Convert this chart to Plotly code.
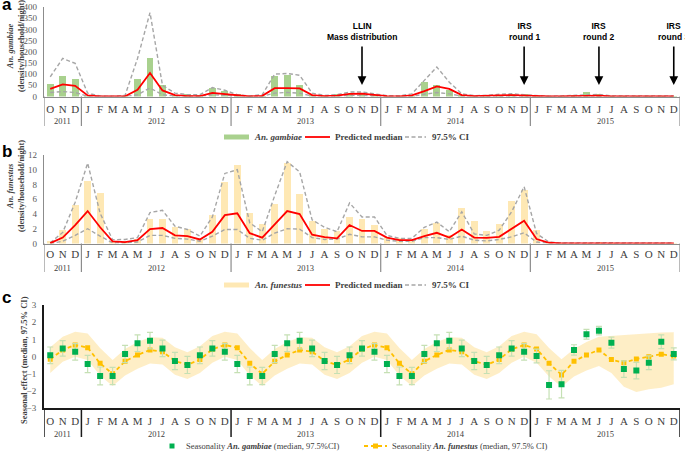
import plotly.graph_objects as go

W, H = 685, 454

# ---------------- data ----------------
months = ["O", "N", "D"] + ["J", "F", "M", "A", "M", "J", "J", "A", "S", "O", "N", "D"] * 4
years = ["2011", "2012", "2013", "2014", "2015"]
months_per_year = [3, 12, 12, 12, 12]

# Panel a: An. gambiae density
gamb_obs = [55, 91, 78,
            2, 0, 0, 2, 80, 172, 50, 8, 10, 6, 38, 24,
            10, 2, 4, 90, 97, 52, 6, 4, 10, 12, 14, 8,
            3, 2, 4, 64, 52, 30, 5, 2, 4, 8, 10, 9,
            2, 1, 2, 5, 18, 9, 3, 2, 1, 2, 2, 1]
gamb_med = [34, 54, 48,
            5, 0, 0, 1, 30, 105, 27, 6, 2, 2, 16, 10,
            3, 0, 3, 37, 37, 36, 6, 2, 4, 12, 13, 7,
            2, 1, 5, 24, 45, 34, 6, 2, 2, 5, 6, 4,
            1, 0, 1, 2, 4, 4, 1, 1, 0, 1, 1, 1]
gamb_hi = [88, 170, 148,
           15, 2, 1, 5, 170, 375, 50, 15, 8, 8, 40, 28,
           8, 2, 8, 100, 103, 95, 15, 5, 8, 20, 20, 12,
           4, 3, 12, 72, 132, 64, 12, 4, 5, 10, 12, 8,
           3, 1, 3, 5, 10, 9, 3, 2, 1, 2, 2, 2]
gamb_lo = [18, 22, 18,
           1, 0, 0, 0, 8, 38, 8, 2, 1, 1, 8, 5,
           1, 0, 1, 15, 18, 15, 2, 1, 1, 5, 5, 3,
           1, 0, 1, 10, 18, 12, 2, 1, 1, 2, 2, 1,
           0, 0, 0, 1, 1, 1, 0, 0, 0, 0, 0, 0]

# Panel b: An. funestus density
fun_obs = [0.3, 1.8, 5.2,
           8.5, 6.8, 0.4, 0.4, 0.6, 3.3, 3.3, 2.2, 2.0, 0.8, 3.85, 8.4,
           10.6, 4.2, 2.7, 5.4, 10.9, 6.7, 3.0, 2.0, 1.7, 3.6, 3.3, 2.5,
           0.9, 0.7, 0.5, 2.0, 2.8, 1.1, 4.8, 3.0, 1.7, 2.6, 5.7, 7.2,
           1.8, 0.2, 0.05, 0.05, 0.1, 0.15, 0.05, 0.02, 0.02, 0.02, 0.02, 0.02]
fun_med = [0.05, 0.8, 2.5,
           4.4, 2.2, 0.3, 0.2, 0.45, 1.95, 2.1, 1.1, 1.0, 0.55, 1.6, 3.85,
           4.1, 1.4, 0.8, 2.6, 4.4, 4.0, 1.2, 0.85, 0.7, 2.5, 1.7, 1.7,
           0.8, 0.45, 0.45, 1.0, 1.45, 0.8, 1.9, 0.8, 0.75, 0.9, 2.0, 3.1,
           0.6, 0.1, 0.03, 0.03, 0.05, 0.06, 0.04, 0.02, 0.02, 0.02, 0.02, 0.02]
fun_hi = [0.1, 1.5, 5.6,
          10.9, 4.1, 0.5, 0.55, 0.8, 4.2, 4.5, 2.35, 1.9, 1.0, 3.6, 9.5,
          10.0, 2.8, 1.6, 6.5, 11.1, 9.7, 3.2, 2.2, 1.6, 5.5, 3.6, 3.6,
          1.1, 0.7, 0.7, 2.2, 2.9, 1.6, 4.3, 1.3, 1.1, 1.8, 4.3, 7.7,
          1.35, 0.2, 0.08, 0.08, 0.12, 0.15, 0.1, 0.06, 0.06, 0.06, 0.06, 0.06]
fun_lo = [0.0, 0.3, 1.1,
          2.0, 1.0, 0.1, 0.1, 0.2, 1.1, 1.1, 0.7, 0.6, 0.3, 1.0, 1.9,
          1.9, 0.7, 0.45, 1.4, 2.0, 1.95, 0.8, 0.55, 0.6, 1.25, 0.9, 0.9,
          0.45, 0.3, 0.3, 0.8, 0.8, 0.55, 1.0, 0.45, 0.35, 0.55, 0.9, 1.45,
          0.2, 0.05, 0.01, 0.01, 0.01, 0.01, 0.01, 0.01, 0.01, 0.01, 0.01, 0.01]

# Panel c: seasonal effects
season_gamb = [0.08, 0.48, 0.28,
               -0.43, -1.12, -1.12, 0.15, 0.78, 0.93, 0.48, -0.25, -0.48, 0.08, 0.48, 0.28,
               -0.43, -1.12, -1.12, 0.15, 0.78, 0.93, 0.48, -0.25, -0.48, 0.08, 0.48, 0.28,
               -0.43, -1.12, -1.12, 0.15, 0.78, 0.93, 0.48, -0.25, -0.48, 0.08, 0.48, 0.28,
               0.04, -1.64, -1.6, 0.39, 1.3, 1.51, 0.81, -0.72, -0.81, -0.35, 0.87, 0.16]
season_gamb_err = [0.48, 0.45, 0.48,
                   0.5, 0.52, 0.5, 0.5, 0.48, 0.48, 0.48, 0.5, 0.5, 0.48, 0.45, 0.48,
                   0.5, 0.52, 0.5, 0.5, 0.48, 0.48, 0.48, 0.5, 0.5, 0.48, 0.45, 0.48,
                   0.5, 0.52, 0.5, 0.5, 0.48, 0.48, 0.48, 0.5, 0.5, 0.48, 0.45, 0.48,
                   0.4, 0.82, 0.8, 0.3, 0.28, 0.25, 0.32, 0.48, 0.48, 0.4, 0.4, 0.35]
season_fun = [-0.15, 0.39, 0.68,
              0.52, -0.39, -1.0, -0.27, 0.1, 0.39, 0.29, -0.25, -0.48, -0.17, 0.43, 0.68,
              0.52, -0.39, -1.0, -0.27, 0.1, 0.39, 0.29, -0.25, -0.48, -0.17, 0.43, 0.68,
              0.52, -0.39, -1.0, -0.27, 0.1, 0.39, 0.29, -0.25, -0.48, -0.17, 0.43, 0.68,
              0.45, -0.38, -1.06, -0.27, 0.1, 0.39, -0.17, -0.35, -0.14, 0.0, 0.14, 0.04]
season_fun_hi = [0.55, 1.15, 1.45,
                 1.35, 0.5, -0.2, 0.45, 0.85, 1.12, 1.1, 0.55, 0.25, 0.6, 1.2, 1.45,
                 1.35, 0.5, -0.2, 0.45, 0.85, 1.12, 1.1, 0.55, 0.25, 0.6, 1.2, 1.45,
                 1.35, 0.5, -0.2, 0.45, 0.85, 1.12, 1.1, 0.55, 0.25, 0.6, 1.2, 1.45,
                 1.3, 0.5, -0.15, 0.45, 0.85, 1.15, 1.2, 1.27, 1.3, 1.35, 1.4, 1.42]
season_fun_lo = [-0.95, -0.3, 0.0,
                 -0.2, -1.1, -1.7, -1.1, -0.7, -0.4, -0.45, -1.05, -1.3, -0.95, -0.35, 0.0,
                 -0.2, -1.1, -1.7, -1.1, -0.7, -0.4, -0.45, -1.05, -1.3, -0.95, -0.35, 0.0,
                 -0.2, -1.1, -1.7, -1.1, -0.7, -0.4, -0.45, -1.05, -1.3, -0.95, -0.35, 0.0,
                 -0.35, -1.15, -1.75, -1.15, -0.8, -0.55, -0.95, -1.75, -2.05, -1.9, -1.8, -1.6]

interventions = ["LLIN<br>Mass distribution", "IRS<br>round 1", "IRS<br>round 2", "IRS<br>round 3"]
intervention_idx = [25, 38, 44, 50]

# ---------------- helpers ----------------
x = list(range(len(months)))
def fx(px):
    return px / W
def fy(py):
    return 1 - py / H

SERIF = "Liberation Serif, Times New Roman, serif"
SANS = "Liberation Sans, Arial, sans-serif"
NARROW = "Liberation Sans Narrow, Liberation Sans, Arial, sans-serif"
TXT = "#404040"
GRAYLINE = "#8c8c8c"

XDOM = [fx(44), fx(680)]
ydom_a = [fy(96.5), fy(7)]
ydom_b = [fy(243.5), fy(155)]
ydom_c = [fy(408.3), fy(305)]

fig = go.Figure()

# Panel a
fig.add_trace(go.Bar(x=x, y=gamb_obs, width=0.55, marker=dict(color="#a9d18e", line=dict(width=0)),
                     xaxis="x", yaxis="y", showlegend=False))
fig.add_trace(go.Scatter(x=x, y=gamb_hi, mode="lines", line=dict(color="#a6a6a6", width=1.4, dash="4px,2.5px"),
                         xaxis="x", yaxis="y", showlegend=False))
fig.add_trace(go.Scatter(x=x, y=gamb_lo, mode="lines", line=dict(color="#a6a6a6", width=1.4, dash="4px,2.5px"),
                         xaxis="x", yaxis="y", showlegend=False))
fig.add_trace(go.Scatter(x=x, y=gamb_med, mode="lines", line=dict(color="#ff0000", width=1.8),
                         xaxis="x", yaxis="y", showlegend=False))

# Panel b
fig.add_trace(go.Bar(x=x, y=fun_obs, width=0.55, marker=dict(color="#fee8b4", line=dict(width=0)),
                     xaxis="x2", yaxis="y2", showlegend=False))
fig.add_trace(go.Scatter(x=x, y=fun_hi, mode="lines", line=dict(color="#a6a6a6", width=1.4, dash="4px,2.5px"),
                         xaxis="x2", yaxis="y2", showlegend=False))
fig.add_trace(go.Scatter(x=x, y=fun_lo, mode="lines", line=dict(color="#a6a6a6", width=1.4, dash="4px,2.5px"),
                         xaxis="x2", yaxis="y2", showlegend=False))
fig.add_trace(go.Scatter(x=x, y=fun_med, mode="lines", line=dict(color="#ff0000", width=1.8),
                         xaxis="x2", yaxis="y2", showlegend=False))

# Panel c
fig.add_trace(go.Scatter(x=x, y=season_fun_lo, mode="lines", line=dict(width=0, color="rgba(0,0,0,0)"),
                         xaxis="x3", yaxis="y3", showlegend=False, hoverinfo="skip"))
fig.add_trace(go.Scatter(x=x, y=season_fun_hi, mode="lines", line=dict(width=0, color="rgba(0,0,0,0)"),
                         fill="tonexty", fillcolor="rgba(253,226,160,0.6)",
                         xaxis="x3", yaxis="y3", showlegend=False, hoverinfo="skip"))
fig.add_trace(go.Scatter(x=x, y=season_fun, mode="lines+markers",
                         line=dict(color="#ffc000", width=1.8, dash="4px,3px"),
                         marker=dict(symbol="square", size=5, color="#ffc000"),
                         xaxis="x3", yaxis="y3", showlegend=False))
fig.add_trace(go.Scatter(x=x, y=season_gamb, mode="markers",
                         marker=dict(symbol="square", size=6, color="#00b050"),
                         error_y=dict(type="data", array=season_gamb_err, color="#c5e0b4", thickness=1.2, width=3),
                         xaxis="x3", yaxis="y3", showlegend=False))

# ---------------- axes ----------------
def xaxis_cfg(anchor, linecolor, linewidth, standoff):
    return dict(domain=XDOM, anchor=anchor, range=[-0.5, len(months) - 0.5], automargin=False,
                tickmode="array", tickvals=x, ticktext=months, ticks="",
                tickfont=dict(family=SERIF, size=11, color=TXT), ticklabelstandoff=standoff,
                showgrid=False, zeroline=False, showline=True, linecolor=linecolor, linewidth=linewidth,
                fixedrange=True)

def yaxis_cfg(anchor, dom, rng, dtick, linecolor, linewidth):
    return dict(domain=dom, anchor=anchor, range=rng, dtick=dtick, ticks="", automargin=False,
                tickfont=dict(family=SERIF, size=9, color="#595959"), ticklabelstandoff=4,
                showgrid=False, zeroline=False, showline=True, linecolor=linecolor, linewidth=linewidth,
                fixedrange=True)

layout = dict(
    template="none",
    width=W, height=H, margin=dict(l=0, r=0, t=0, b=0, pad=0),
    paper_bgcolor="white", plot_bgcolor="white", bargap=0,
    xaxis=xaxis_cfg("y", GRAYLINE, 1.2, 2),
    yaxis=yaxis_cfg("x", ydom_a, [0, 400], 50, GRAYLINE, 1.2),
    xaxis2=xaxis_cfg("y2", GRAYLINE, 1.2, 0),
    yaxis2=yaxis_cfg("x2", ydom_b, [0, 12], 2, GRAYLINE, 1.2),
    xaxis3=xaxis_cfg("y3", "#1a1a1a", 2, 1),
    yaxis3=yaxis_cfg("x3", ydom_c, [-3, 3], 1, "#1a1a1a", 2),
)
fig.update_layout(**layout)

shapes = []
annotations = []

# multi-level category dividers and year labels
bounds = [-0.5]
for n in months_per_year:
    bounds.append(bounds[-1] + n)
panel_specs = [
    # (axis ref, top py, bottom py, year label py, color, width)
    ("x", 96.5, 126, 120.5, GRAYLINE, 1.2),
    ("x2", 243.5, 272, 267.5, GRAYLINE, 1.2),
    ("x3", 408.3, 437, 434, "#1a1a1a", 1.5),
]
for xref, top, bot, ypy, col, lw in panel_specs:
    for b in bounds:
        shapes.append(dict(type="line", xref=xref, yref="paper", x0=b, x1=b, y0=fy(top), y1=fy(bot),
                           line=dict(color=col, width=lw)))
    for i, yr in enumerate(years):
        mid = (bounds[i] + bounds[i + 1]) / 2
        annotations.append(dict(text=yr, xref=xref, yref="paper", x=mid, y=fy(ypy), showarrow=False,
                                font=dict(family=SERIF, size=8.5, color=TXT), xanchor="center", yanchor="middle"))

# intervention arrows and labels (panel a)
for lab, idx in zip(interventions, intervention_idx):
    annotations.append(dict(text="<b>" + lab + "</b>", xref="x", yref="paper", x=idx, y=fy(32),
                            showarrow=False, font=dict(family=NARROW, size=8.5, color="black"),
                            xanchor="center", yanchor="middle", align="center"))
    annotations.append(dict(text="", xref="x", yref="paper", x=idx, y=fy(85), showarrow=True,
                            ax=0, ay=-40, arrowhead=2, arrowsize=1.1, arrowwidth=1.6, arrowcolor="black"))

# panel letters
for letter, py in [("a", 5), ("b", 151), ("c", 297)]:
    annotations.append(dict(text="<b>" + letter + "</b>", xref="paper", yref="paper", x=fx(0), y=fy(py),
                            showarrow=False, font=dict(family=SANS, size=17, color="black"),
                            xanchor="left", yanchor="middle"))

# y-axis titles
annotations.append(dict(text="<b><i>An. gambiae</i></b><br><b>(density/household/night)</b>",
                        xref="paper", yref="paper", x=fx(15), y=fy(46), textangle=-90, showarrow=False,
                        font=dict(family=SERIF, size=8.5, color=TXT), xanchor="center", yanchor="middle"))
annotations.append(dict(text="<b><i>An. funestus</i></b><br><b>(density/household/night)</b>",
                        xref="paper", yref="paper", x=fx(15), y=fy(186), textangle=-90, showarrow=False,
                        font=dict(family=SERIF, size=8.5, color=TXT), xanchor="center", yanchor="middle"))
annotations.append(dict(text="<b>Seasonal effect (median, 97.5% CI)</b>",
                        xref="paper", yref="paper", x=fx(24), y=fy(360), textangle=-90, showarrow=False,
                        font=dict(family=SERIF, size=8.5, color=TXT), xanchor="center", yanchor="middle"))

# legends (drawn manually)
def legend_text(txt, px, py, size=9):
    annotations.append(dict(text=txt, xref="paper", yref="paper", x=fx(px), y=fy(py), showarrow=False,
                            font=dict(family=SERIF, size=size, color=TXT), xanchor="left", yanchor="middle"))

for py, swatch, name in [(137, "#a9d18e", "<b><i>An. gambiae</i></b>"),
                         (285, "#fee8b4", "<b><i>An. funestus</i></b>")]:
    shapes.append(dict(type="rect", xref="paper", yref="paper", x0=fx(224), x1=fx(249),
                       y0=fy(py + 2.5), y1=fy(py - 2.5), fillcolor=swatch, line=dict(width=0)))
    legend_text(name, 252, py)
    shapes.append(dict(type="line", xref="paper", yref="paper", x0=fx(305), x1=fx(330), y0=fy(py), y1=fy(py),
                       line=dict(color="#ff0000", width=1.8)))
    legend_text("<b>Predicted median</b>", 333, py)
    shapes.append(dict(type="line", xref="paper", yref="paper", x0=fx(405), x1=fx(426), y0=fy(py), y1=fy(py),
                       line=dict(color="#a6a6a6", width=1.4, dash="4px,2.5px")))
    legend_text("<b>97.5% CI</b>", 430, py)

# legend c
shapes.append(dict(type="rect", xref="paper", yref="paper", x0=fx(169.5), x1=fx(174.5),
                   y0=fy(448.5), y1=fy(443.5), fillcolor="#00b050", line=dict(width=0)))
legend_text("Seasonality <b><i>An. gambiae</i></b> (median, 97.5%CI)", 184, 446, 8.5)
shapes.append(dict(type="line", xref="paper", yref="paper", x0=fx(364), x1=fx(387), y0=fy(446), y1=fy(446),
                   line=dict(color="#ffc000", width=1.8, dash="4px,3px")))
shapes.append(dict(type="rect", xref="paper", yref="paper", x0=fx(373), x1=fx(378),
                   y0=fy(448.5), y1=fy(443.5), fillcolor="#ffc000", line=dict(width=0)))
legend_text("Seasonality <b><i>An. funestus</i></b> (median, 97.5% CI)", 390, 446, 8.5)

fig.update_layout(shapes=shapes, annotations=annotations)
fig.write_html("out.html", config={"displayModeBar": False, "staticPlot": True},
               post_script="document.body.style.margin='0';document.body.style.overflow='hidden';")
